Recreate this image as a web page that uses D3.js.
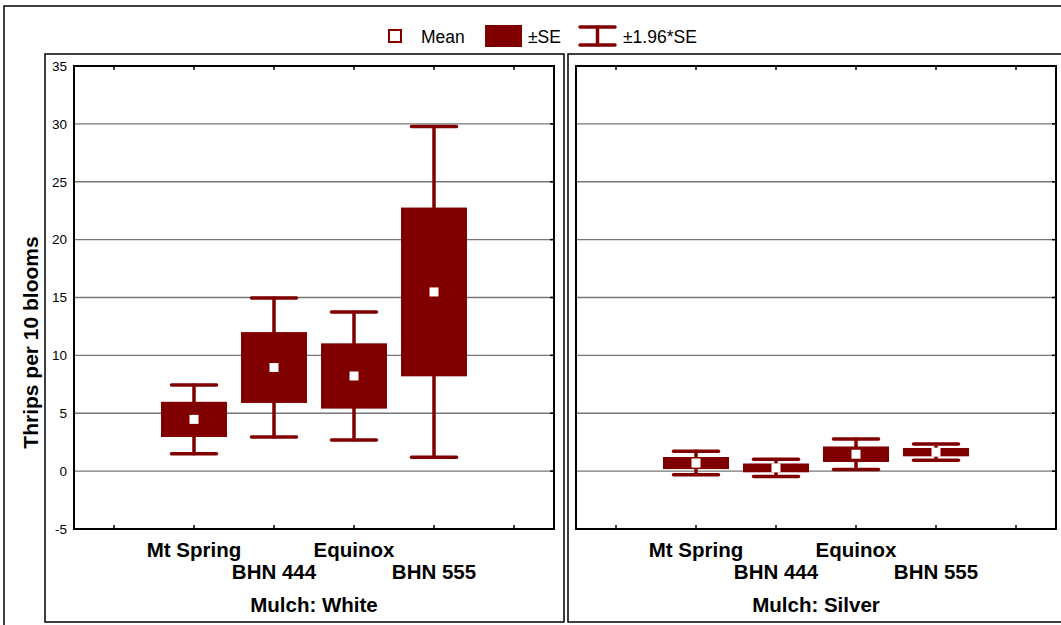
<!DOCTYPE html>
<html>
<head>
<meta charset="utf-8">
<script src="https://cdn.jsdelivr.net/npm/d3@7"></script>
<style>
    body { margin: 0; background: #fff; }
    svg { display: block; font-family: "Liberation Sans", Arial, sans-serif; }
</style>
</head>
<body>
<svg id="chart" width="1061" height="625"></svg>
<script>
"use strict";

// data: mean and standard error per cultivar
var categories = ["Mt Spring", "BHN 444", "Equinox", "BHN 555"];
var panelTitles = ["Mulch: White", "Mulch: Silver"];
var whiteMean = [4.47, 8.95, 8.22, 15.48];
var whiteSE = [1.52, 3.06, 2.82, 7.29];
var silverMean = [0.70, 0.28, 1.46, 1.64];
var silverSE = [0.52, 0.38, 0.67, 0.36];
var yTicks = [-5, 0, 5, 10, 15, 20, 25, 30, 35];
var gridTicks = [0, 5, 10, 15, 20, 25, 30];
var xTickPos = [0, 1, 2, 3, 4, 5];

var RED = "#800000";
var svg = d3.select("#chart");

// outer frame and panel frames
svg.append("rect").attr("x", 4).attr("y", 6).attr("width", 1070).attr("height", 640)
    .attr("fill", "none").attr("stroke", "#000").attr("stroke-width", 1.5);

var panels = [
    {title: panelTitles[0], mean: whiteMean, se: whiteSE, frameX: 45, frameW: 519, plotX: 74, yLabels: true},
    {title: panelTitles[1], mean: silverMean, se: silverSE, frameX: 568, frameW: 520, plotX: 576, yLabels: false}
];

var plotTop = 66, plotBottom = 529, plotW = 480;
var y = d3.scaleLinear().domain([-5, 35]).range([plotBottom, plotTop]);

panels.forEach(function (p) {
    svg.append("rect").attr("x", p.frameX).attr("y", 54).attr("width", p.frameW).attr("height", 568)
        .attr("fill", "none").attr("stroke", "#000").attr("stroke-width", 1.5);

    var x = d3.scaleLinear().domain([-0.5, 5.5]).range([p.plotX, p.plotX + plotW]);
    var g = svg.append("g");

    // horizontal grid
    g.selectAll(".grid").data(gridTicks).enter().append("line")
        .attr("x1", p.plotX).attr("x2", p.plotX + plotW)
        .attr("y1", function (d) { return y(d); }).attr("y2", function (d) { return y(d); })
        .attr("stroke", "#777").attr("stroke-width", 1.3);

    // small inner ticks
    g.selectAll(".xt").data(xTickPos).enter().append("line")
        .attr("x1", function (d) { return x(d); }).attr("x2", function (d) { return x(d); })
        .attr("y1", plotTop).attr("y2", plotTop + 4).attr("stroke", "#000").attr("stroke-width", 1.5);
    g.selectAll(".xb").data(xTickPos).enter().append("line")
        .attr("x1", function (d) { return x(d); }).attr("x2", function (d) { return x(d); })
        .attr("y1", plotBottom).attr("y2", plotBottom - 4).attr("stroke", "#000").attr("stroke-width", 1.5);
    g.selectAll(".yr").data(yTicks).enter().append("line")
        .attr("x1", p.plotX + plotW).attr("x2", p.plotX + plotW - 4)
        .attr("y1", function (d) { return y(d); }).attr("y2", function (d) { return y(d); })
        .attr("stroke", "#000").attr("stroke-width", 1.5);

    if (p.yLabels) {
        var ax = g.append("g").attr("transform", "translate(" + p.plotX + ",0)")
            .call(d3.axisLeft(y).tickValues(yTicks).tickSize(0).tickPadding(7)
                .tickFormat(function (d) { return String(d); }));
        ax.select(".domain").remove();
        ax.selectAll("text").attr("font-size", 13.5).attr("font-family", "Liberation Sans, Arial, sans-serif").attr("fill", "#000");
    }

    // whiskers (mean +- 1.96*SE)
    var rows = categories.map(function (c, i) { return {cat: c, i: i + 1, m: p.mean[i], se: p.se[i]}; });
    var w = g.selectAll(".whisk").data(rows).enter().append("g")
        .attr("stroke", RED).attr("stroke-width", 3.5).attr("stroke-linecap", "round");
    w.append("line")
        .attr("x1", function (d) { return x(d.i); }).attr("x2", function (d) { return x(d.i); })
        .attr("y1", function (d) { return y(d.m - 1.96 * d.se); }).attr("y2", function (d) { return y(d.m + 1.96 * d.se); });
    [-1, 1].forEach(function (s) {
        w.append("line")
            .attr("x1", function (d) { return x(d.i) - 22.5; }).attr("x2", function (d) { return x(d.i) + 22.5; })
            .attr("y1", function (d) { return y(d.m + s * 1.96 * d.se); })
            .attr("y2", function (d) { return y(d.m + s * 1.96 * d.se); });
    });

    // SE boxes
    g.selectAll(".box").data(rows).enter().append("rect")
        .attr("x", function (d) { return x(d.i) - 33; }).attr("width", 66)
        .attr("y", function (d) { return y(d.m + d.se); })
        .attr("height", function (d) { return y(d.m - d.se) - y(d.m + d.se); })
        .attr("fill", RED);

    // mean points
    g.selectAll(".mean").data(rows).enter().append("rect")
        .attr("x", function (d) { return x(d.i) - 4.5; }).attr("y", function (d) { return y(d.m) - 4.5; })
        .attr("width", 9).attr("height", 9).attr("fill", "#fff");

    // plot frame
    g.append("rect").attr("x", p.plotX).attr("y", plotTop).attr("width", plotW).attr("height", plotBottom - plotTop)
        .attr("fill", "none").attr("stroke", "#000").attr("stroke-width", 2);

    // staggered category labels
    g.selectAll(".cat").data(rows).enter().append("text")
        .attr("x", function (d) { return x(d.i); })
        .attr("y", function (d) { return d.i % 2 === 1 ? 557 : 579; })
        .attr("text-anchor", "middle").attr("font-size", 20.5).attr("font-weight", "bold")
        .text(function (d) { return d.cat; });

    g.append("text").attr("x", p.plotX + plotW / 2).attr("y", 612)
        .attr("text-anchor", "middle").attr("font-size", 20.5).attr("font-weight", "bold")
        .text(p.title);
});

// y axis title
svg.append("text").attr("transform", "translate(38,342.5) rotate(-90)")
    .attr("text-anchor", "middle").attr("font-size", 21).attr("font-weight", "bold")
    .text("Thrips per 10 blooms");

// legend
var lg = svg.append("g");
lg.append("rect").attr("x", 389).attr("y", 30).attr("width", 12).attr("height", 12)
    .attr("fill", "#fff").attr("stroke", RED).attr("stroke-width", 2);
lg.append("text").attr("x", 421).attr("y", 43).attr("font-size", 17.5).text("Mean");
lg.append("rect").attr("x", 485).attr("y", 25).attr("width", 37).attr("height", 22).attr("fill", RED);
lg.append("text").attr("x", 528).attr("y", 43).attr("font-size", 17.5).text("±SE");
var wk = lg.append("g").attr("stroke", RED).attr("stroke-width", 3.5).attr("stroke-linecap", "round");
wk.append("line").attr("x1", 580).attr("x2", 615).attr("y1", 27).attr("y2", 27);
wk.append("line").attr("x1", 580).attr("x2", 615).attr("y1", 45).attr("y2", 45);
wk.append("line").attr("x1", 597.5).attr("x2", 597.5).attr("y1", 27).attr("y2", 45);
lg.append("text").attr("x", 623).attr("y", 43).attr("font-size", 17.5).text("±1.96*SE");
</script>
</body>
</html>
